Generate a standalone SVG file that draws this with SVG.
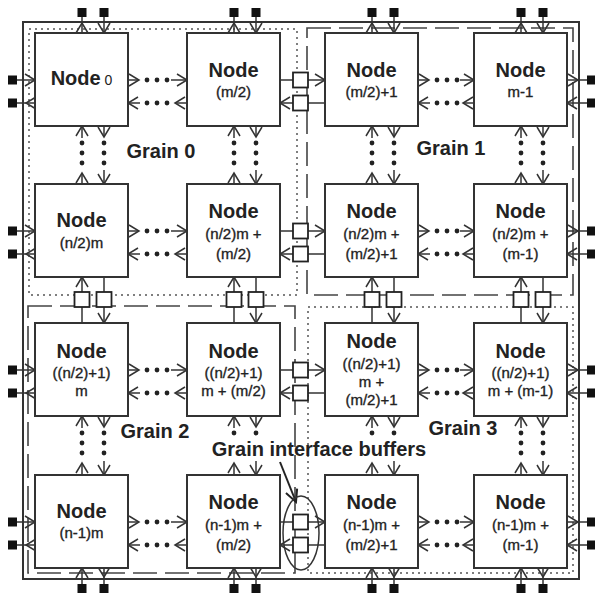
<svg xmlns="http://www.w3.org/2000/svg" width="595" height="595" viewBox="0 0 595 595">
<style>
.n rect{fill:#fff;stroke:#333;stroke-width:2}
text{font-family:"Liberation Sans",Arial,sans-serif;fill:#222;text-anchor:middle}
.t{font-size:20px;font-weight:bold}
.s{font-size:15px;font-weight:normal;stroke:#222;stroke-width:0.35}
.c{stroke:#333;stroke-width:1.5;fill:none;marker-end:url(#a)}
.p{stroke:#333;stroke-width:1.5}
.d{stroke:#222;stroke-width:4.8;stroke-linecap:round;stroke-dasharray:0 10}
.b{fill:#fff;stroke:#222;stroke-width:1.8}
.sq{fill:#111}
.gd{fill:none;stroke:#555;stroke-width:1.5;stroke-dasharray:2 4}
.gl{fill:none;stroke:#444;stroke-width:1.6;stroke-dasharray:24 8}
</style>
<defs>
<marker id="a" markerUnits="userSpaceOnUse" markerWidth="12" markerHeight="14" refX="10" refY="6" orient="auto" overflow="visible">
<path d="M0,0 L10,6 L0,12" fill="none" stroke="#333" stroke-width="1.5"/>
</marker>
<marker id="big" markerUnits="userSpaceOnUse" markerWidth="16" markerHeight="16" refX="12" refY="6" orient="auto" overflow="visible">
<path d="M0,0 L12,6 L0,12" fill="none" stroke="#222" stroke-width="2"/>
</marker>
</defs>
<rect width="595" height="595" fill="#fff"/>
<g id="grains">
<rect x="23" y="22" width="556" height="557" fill="none" stroke="#333" stroke-width="2"/>
<rect class="gd" x="29" y="29" width="268" height="266"/>
<rect class="gl" x="307" y="28" width="266" height="267"/>
<rect class="gl" x="28" y="306" width="267" height="267"/>
<rect class="gd" x="308" y="307" width="265" height="266"/>
</g>
<g id="connectors">
<line class="c" x1="128" y1="80" x2="139" y2="80"/><line class="d" x1="147" y1="80" x2="167.5" y2="80"/><line class="c" x1="171" y1="80" x2="187" y2="80"/>
<line class="c" x1="187" y1="103" x2="175" y2="103"/><line class="d" x1="147" y1="103" x2="167.5" y2="103"/><line class="c" x1="140" y1="103" x2="128" y2="103"/>
<line class="c" x1="128" y1="231" x2="139" y2="231"/><line class="d" x1="147" y1="231" x2="167.5" y2="231"/><line class="c" x1="171" y1="231" x2="187" y2="231"/>
<line class="c" x1="187" y1="254" x2="175" y2="254"/><line class="d" x1="147" y1="254" x2="167.5" y2="254"/><line class="c" x1="140" y1="254" x2="128" y2="254"/>
<line class="c" x1="128" y1="370" x2="139" y2="370"/><line class="d" x1="147" y1="370" x2="167.5" y2="370"/><line class="c" x1="171" y1="370" x2="187" y2="370"/>
<line class="c" x1="187" y1="393" x2="175" y2="393"/><line class="d" x1="147" y1="393" x2="167.5" y2="393"/><line class="c" x1="140" y1="393" x2="128" y2="393"/>
<line class="c" x1="128" y1="522" x2="139" y2="522"/><line class="d" x1="147" y1="522" x2="167.5" y2="522"/><line class="c" x1="171" y1="522" x2="187" y2="522"/>
<line class="c" x1="187" y1="545" x2="175" y2="545"/><line class="d" x1="147" y1="545" x2="167.5" y2="545"/><line class="c" x1="140" y1="545" x2="128" y2="545"/>
<line class="c" x1="418" y1="80" x2="429" y2="80"/><line class="d" x1="437" y1="80" x2="457.5" y2="80"/><line class="c" x1="460" y1="80" x2="474" y2="80"/>
<line class="c" x1="474" y1="103" x2="463" y2="103"/><line class="d" x1="437" y1="103" x2="457.5" y2="103"/><line class="c" x1="430" y1="103" x2="418" y2="103"/>
<line class="c" x1="418" y1="231" x2="429" y2="231"/><line class="d" x1="437" y1="231" x2="457.5" y2="231"/><line class="c" x1="460" y1="231" x2="474" y2="231"/>
<line class="c" x1="474" y1="254" x2="463" y2="254"/><line class="d" x1="437" y1="254" x2="457.5" y2="254"/><line class="c" x1="430" y1="254" x2="418" y2="254"/>
<line class="c" x1="418" y1="370" x2="429" y2="370"/><line class="d" x1="437" y1="370" x2="457.5" y2="370"/><line class="c" x1="460" y1="370" x2="474" y2="370"/>
<line class="c" x1="474" y1="393" x2="463" y2="393"/><line class="d" x1="437" y1="393" x2="457.5" y2="393"/><line class="c" x1="430" y1="393" x2="418" y2="393"/>
<line class="c" x1="418" y1="522" x2="429" y2="522"/><line class="d" x1="437" y1="522" x2="457.5" y2="522"/><line class="c" x1="460" y1="522" x2="474" y2="522"/>
<line class="c" x1="474" y1="545" x2="463" y2="545"/><line class="d" x1="437" y1="545" x2="457.5" y2="545"/><line class="c" x1="430" y1="545" x2="418" y2="545"/>
<line class="p" x1="280" y1="80" x2="293" y2="80"/><line class="c" x1="308" y1="80" x2="325" y2="80"/>
<line class="p" x1="325" y1="103" x2="308" y2="103"/><line class="c" x1="293" y1="103" x2="280" y2="103"/>
<line class="p" x1="280" y1="231" x2="293" y2="231"/><line class="c" x1="308" y1="231" x2="325" y2="231"/>
<line class="p" x1="325" y1="254" x2="308" y2="254"/><line class="c" x1="293" y1="254" x2="280" y2="254"/>
<line class="p" x1="280" y1="370" x2="293" y2="370"/><line class="c" x1="308" y1="370" x2="325" y2="370"/>
<line class="p" x1="325" y1="393" x2="308" y2="393"/><line class="c" x1="293" y1="393" x2="280" y2="393"/>
<line class="p" x1="280" y1="522" x2="293" y2="522"/><line class="c" x1="308" y1="522" x2="325" y2="522"/>
<line class="p" x1="325" y1="545" x2="308" y2="545"/><line class="c" x1="293" y1="545" x2="280" y2="545"/>
<line class="c" x1="82" y1="184" x2="82" y2="173"/><line class="d" x1="82" y1="143" x2="82" y2="167.5"/><line class="c" x1="82" y1="138" x2="82" y2="126"/>
<line class="c" x1="104" y1="126" x2="104" y2="137"/><line class="d" x1="104" y1="143" x2="104" y2="167.5"/><line class="c" x1="104" y1="170" x2="104" y2="184"/>
<line class="c" x1="234" y1="184" x2="234" y2="173"/><line class="d" x1="234" y1="143" x2="234" y2="167.5"/><line class="c" x1="234" y1="138" x2="234" y2="126"/>
<line class="c" x1="256" y1="126" x2="256" y2="137"/><line class="d" x1="256" y1="143" x2="256" y2="167.5"/><line class="c" x1="256" y1="170" x2="256" y2="184"/>
<line class="c" x1="372" y1="184" x2="372" y2="173"/><line class="d" x1="372" y1="143" x2="372" y2="167.5"/><line class="c" x1="372" y1="138" x2="372" y2="126"/>
<line class="c" x1="394" y1="126" x2="394" y2="137"/><line class="d" x1="394" y1="143" x2="394" y2="167.5"/><line class="c" x1="394" y1="170" x2="394" y2="184"/>
<line class="c" x1="521" y1="184" x2="521" y2="173"/><line class="d" x1="521" y1="143" x2="521" y2="167.5"/><line class="c" x1="521" y1="138" x2="521" y2="126"/>
<line class="c" x1="543" y1="126" x2="543" y2="137"/><line class="d" x1="543" y1="143" x2="543" y2="167.5"/><line class="c" x1="543" y1="170" x2="543" y2="184"/>
<line class="c" x1="82" y1="475" x2="82" y2="463"/><line class="d" x1="82" y1="433" x2="82" y2="457.5"/><line class="c" x1="82" y1="428" x2="82" y2="416"/>
<line class="c" x1="104" y1="416" x2="104" y2="427"/><line class="d" x1="104" y1="433" x2="104" y2="457.5"/><line class="c" x1="104" y1="461" x2="104" y2="475"/>
<line class="c" x1="234" y1="475" x2="234" y2="463"/><circle cx="234" cy="433" r="2.4" fill="#222"/><line class="c" x1="234" y1="428" x2="234" y2="416"/>
<line class="c" x1="256" y1="416" x2="256" y2="427"/><circle cx="256" cy="433" r="2.4" fill="#222"/><line class="c" x1="256" y1="461" x2="256" y2="475"/>
<line class="c" x1="372" y1="475" x2="372" y2="463"/><circle cx="372" cy="433" r="2.4" fill="#222"/><line class="c" x1="372" y1="428" x2="372" y2="416"/>
<line class="c" x1="394" y1="416" x2="394" y2="427"/><circle cx="394" cy="433" r="2.4" fill="#222"/><line class="c" x1="394" y1="461" x2="394" y2="475"/>
<line class="c" x1="521" y1="475" x2="521" y2="463"/><line class="d" x1="521" y1="433" x2="521" y2="457.5"/><line class="c" x1="521" y1="428" x2="521" y2="416"/>
<line class="c" x1="543" y1="416" x2="543" y2="427"/><line class="d" x1="543" y1="433" x2="543" y2="457.5"/><line class="c" x1="543" y1="461" x2="543" y2="475"/>
<line class="p" x1="82" y1="323" x2="82" y2="307"/><line class="c" x1="82" y1="292" x2="82" y2="277"/>
<line class="p" x1="104" y1="277" x2="104" y2="292"/><line class="c" x1="104" y1="307" x2="104" y2="323"/>
<line class="p" x1="234" y1="323" x2="234" y2="307"/><line class="c" x1="234" y1="292" x2="234" y2="277"/>
<line class="p" x1="256" y1="277" x2="256" y2="292"/><line class="c" x1="256" y1="307" x2="256" y2="323"/>
<line class="p" x1="372" y1="323" x2="372" y2="307"/><line class="c" x1="372" y1="292" x2="372" y2="277"/>
<line class="p" x1="394" y1="277" x2="394" y2="292"/><line class="c" x1="394" y1="307" x2="394" y2="323"/>
<line class="p" x1="521" y1="323" x2="521" y2="307"/><line class="c" x1="521" y1="292" x2="521" y2="277"/>
<line class="p" x1="543" y1="277" x2="543" y2="292"/><line class="c" x1="543" y1="307" x2="543" y2="323"/>
<line class="c" x1="82" y1="33" x2="82" y2="23"/><line class="p" x1="82" y1="23" x2="82" y2="17"/><line class="c" x1="104" y1="17" x2="104" y2="33"/>
<line class="c" x1="234" y1="33" x2="234" y2="23"/><line class="p" x1="234" y1="23" x2="234" y2="17"/><line class="c" x1="256" y1="17" x2="256" y2="33"/>
<line class="c" x1="372" y1="33" x2="372" y2="23"/><line class="p" x1="372" y1="23" x2="372" y2="17"/><line class="c" x1="394" y1="17" x2="394" y2="33"/>
<line class="c" x1="521" y1="33" x2="521" y2="23"/><line class="p" x1="521" y1="23" x2="521" y2="17"/><line class="c" x1="543" y1="17" x2="543" y2="33"/>
<line class="c" x1="82" y1="584" x2="82" y2="568"/><line class="c" x1="104" y1="568" x2="104" y2="577"/><line class="p" x1="104" y1="577" x2="104" y2="584"/>
<line class="c" x1="234" y1="584" x2="234" y2="568"/><line class="c" x1="256" y1="568" x2="256" y2="577"/><line class="p" x1="256" y1="577" x2="256" y2="584"/>
<line class="c" x1="372" y1="584" x2="372" y2="568"/><line class="c" x1="394" y1="568" x2="394" y2="577"/><line class="p" x1="394" y1="577" x2="394" y2="584"/>
<line class="c" x1="521" y1="584" x2="521" y2="568"/><line class="c" x1="543" y1="568" x2="543" y2="577"/><line class="p" x1="543" y1="577" x2="543" y2="584"/>
<line class="c" x1="17" y1="80" x2="35" y2="80"/><line class="c" x1="35" y1="103" x2="26" y2="103"/><line class="p" x1="26" y1="103" x2="17" y2="103"/>
<line class="c" x1="17" y1="231" x2="35" y2="231"/><line class="c" x1="35" y1="254" x2="26" y2="254"/><line class="p" x1="26" y1="254" x2="17" y2="254"/>
<line class="c" x1="17" y1="370" x2="35" y2="370"/><line class="c" x1="35" y1="393" x2="26" y2="393"/><line class="p" x1="26" y1="393" x2="17" y2="393"/>
<line class="c" x1="17" y1="522" x2="35" y2="522"/><line class="c" x1="35" y1="545" x2="26" y2="545"/><line class="p" x1="26" y1="545" x2="17" y2="545"/>
<line class="c" x1="567" y1="80" x2="578" y2="80"/><line class="p" x1="578" y1="80" x2="587" y2="80"/><line class="c" x1="587" y1="103" x2="567" y2="103"/>
<line class="c" x1="567" y1="231" x2="578" y2="231"/><line class="p" x1="578" y1="231" x2="587" y2="231"/><line class="c" x1="587" y1="254" x2="567" y2="254"/>
<line class="c" x1="567" y1="370" x2="578" y2="370"/><line class="p" x1="578" y1="370" x2="587" y2="370"/><line class="c" x1="587" y1="393" x2="567" y2="393"/>
<line class="c" x1="567" y1="522" x2="578" y2="522"/><line class="p" x1="578" y1="522" x2="587" y2="522"/><line class="c" x1="587" y1="545" x2="567" y2="545"/>
<line x1="280" y1="462" x2="296" y2="502" stroke="#222" stroke-width="2" marker-end="url(#big)"/>
</g>
<g id="terminals">
<rect class="sq" x="77.5" y="8" width="9" height="9"/><rect class="sq" x="99.5" y="8" width="9" height="9"/>
<rect class="sq" x="229.5" y="8" width="9" height="9"/><rect class="sq" x="251.5" y="8" width="9" height="9"/>
<rect class="sq" x="367.5" y="8" width="9" height="9"/><rect class="sq" x="389.5" y="8" width="9" height="9"/>
<rect class="sq" x="516.5" y="8" width="9" height="9"/><rect class="sq" x="538.5" y="8" width="9" height="9"/>
<rect class="sq" x="77.5" y="584" width="9" height="9"/><rect class="sq" x="99.5" y="584" width="9" height="9"/>
<rect class="sq" x="229.5" y="584" width="9" height="9"/><rect class="sq" x="251.5" y="584" width="9" height="9"/>
<rect class="sq" x="367.5" y="584" width="9" height="9"/><rect class="sq" x="389.5" y="584" width="9" height="9"/>
<rect class="sq" x="516.5" y="584" width="9" height="9"/><rect class="sq" x="538.5" y="584" width="9" height="9"/>
<rect class="sq" x="8" y="75.5" width="9" height="9"/><rect class="sq" x="8" y="98.5" width="9" height="9"/>
<rect class="sq" x="8" y="226.5" width="9" height="9"/><rect class="sq" x="8" y="249.5" width="9" height="9"/>
<rect class="sq" x="8" y="365.5" width="9" height="9"/><rect class="sq" x="8" y="388.5" width="9" height="9"/>
<rect class="sq" x="8" y="517.5" width="9" height="9"/><rect class="sq" x="8" y="540.5" width="9" height="9"/>
<rect class="sq" x="587" y="75.5" width="9" height="9"/><rect class="sq" x="587" y="98.5" width="9" height="9"/>
<rect class="sq" x="587" y="226.5" width="9" height="9"/><rect class="sq" x="587" y="249.5" width="9" height="9"/>
<rect class="sq" x="587" y="365.5" width="9" height="9"/><rect class="sq" x="587" y="388.5" width="9" height="9"/>
<rect class="sq" x="587" y="517.5" width="9" height="9"/><rect class="sq" x="587" y="540.5" width="9" height="9"/>
</g>
<g id="buffers">
<rect class="b" x="293" y="72.5" width="15" height="15"/><rect class="b" x="293" y="95.5" width="15" height="15"/>
<rect class="b" x="293" y="223.5" width="15" height="15"/><rect class="b" x="293" y="246.5" width="15" height="15"/>
<rect class="b" x="293" y="362.5" width="15" height="15"/><rect class="b" x="293" y="385.5" width="15" height="15"/>
<rect class="b" x="293" y="514.5" width="15" height="15"/><rect class="b" x="293" y="537.5" width="15" height="15"/>
<rect class="b" x="74.5" y="292" width="15" height="15"/><rect class="b" x="96.5" y="292" width="15" height="15"/>
<rect class="b" x="226.5" y="292" width="15" height="15"/><rect class="b" x="248.5" y="292" width="15" height="15"/>
<rect class="b" x="364.5" y="292" width="15" height="15"/><rect class="b" x="386.5" y="292" width="15" height="15"/>
<rect class="b" x="513.5" y="292" width="15" height="15"/><rect class="b" x="535.5" y="292" width="15" height="15"/>
<ellipse cx="301" cy="533" rx="18" ry="37" fill="none" stroke="#333" stroke-width="1.5"/>
</g>
<g id="node-0" class="n"><rect x="35" y="33" width="93" height="93"/><text class="t" x="81.5" y="85">Node<tspan font-size="14" font-weight="normal"> 0</tspan></text></g>
<g id="node-m2" class="n"><rect x="187" y="33" width="93" height="93"/><text class="t" x="233.5" y="77">Node</text><text class="s" x="233.5" y="97">(m/2)</text></g>
<g id="node-m2p1" class="n"><rect x="325" y="33" width="93" height="93"/><text class="t" x="371.5" y="77">Node</text><text class="s" x="371.5" y="97">(m/2)+1</text></g>
<g id="node-m-1" class="n"><rect x="474" y="33" width="93" height="93"/><text class="t" x="520.5" y="77">Node</text><text class="s" x="520.5" y="97">m-1</text></g>
<g id="node-n2m" class="n"><rect x="35" y="184" width="93" height="93"/><text class="t" x="81.5" y="227">Node</text><text class="s" x="81.5" y="248">(n/2)m</text></g>
<g id="node-n2m-m2" class="n"><rect x="187" y="184" width="93" height="93"/><text class="t" x="233.5" y="218">Node</text><text class="s" x="233.5" y="239">(n/2)m +</text><text class="s" x="233.5" y="259">(m/2)</text></g>
<g id="node-n2m-m2p1" class="n"><rect x="325" y="184" width="93" height="93"/><text class="t" x="371.5" y="218">Node</text><text class="s" x="371.5" y="239">(n/2)m +</text><text class="s" x="371.5" y="259">(m/2)+1</text></g>
<g id="node-n2m-m-1" class="n"><rect x="474" y="184" width="93" height="93"/><text class="t" x="520.5" y="218">Node</text><text class="s" x="520.5" y="239">(n/2)m +</text><text class="s" x="520.5" y="259">(m-1)</text></g>
<g id="node-n2p1m" class="n"><rect x="35" y="323" width="93" height="93"/><text class="t" x="81.5" y="358">Node</text><text class="s" x="81.5" y="378">((n/2)+1)</text><text class="s" x="81.5" y="396">m</text></g>
<g id="node-n2p1m-m2" class="n"><rect x="187" y="323" width="93" height="93"/><text class="t" x="233.5" y="358">Node</text><text class="s" x="233.5" y="378">((n/2)+1)</text><text class="s" x="233.5" y="396">m + (m/2)</text></g>
<g id="node-n2p1m-m2p1" class="n"><rect x="325" y="323" width="93" height="93"/><text class="t" x="371.5" y="348">Node</text><text class="s" x="371.5" y="369">((n/2)+1)</text><text class="s" x="371.5" y="387">m +</text><text class="s" x="371.5" y="405">(m/2)+1</text></g>
<g id="node-n2p1m-m-1" class="n"><rect x="474" y="323" width="93" height="93"/><text class="t" x="520.5" y="358">Node</text><text class="s" x="520.5" y="378">((n/2)+1)</text><text class="s" x="520.5" y="396">m + (m-1)</text></g>
<g id="node-n-1m" class="n"><rect x="35" y="475" width="93" height="93"/><text class="t" x="81.5" y="518">Node</text><text class="s" x="81.5" y="538">(n-1)m</text></g>
<g id="node-n-1m-m2" class="n"><rect x="187" y="475" width="93" height="93"/><text class="t" x="233.5" y="509">Node</text><text class="s" x="233.5" y="530">(n-1)m +</text><text class="s" x="233.5" y="550">(m/2)</text></g>
<g id="node-n-1m-m2p1" class="n"><rect x="325" y="475" width="93" height="93"/><text class="t" x="371.5" y="509">Node</text><text class="s" x="371.5" y="530">(n-1)m +</text><text class="s" x="371.5" y="550">(m/2)+1</text></g>
<g id="node-n-1m-m-1" class="n"><rect x="474" y="475" width="93" height="93"/><text class="t" x="520.5" y="509">Node</text><text class="s" x="520.5" y="530">(n-1)m +</text><text class="s" x="520.5" y="550">(m-1)</text></g>
<g id="labels">
<text class="t" x="161" y="158">Grain 0</text>
<text class="t" x="451" y="155">Grain 1</text>
<text class="t" x="155" y="438">Grain 2</text>
<text class="t" x="463" y="435">Grain 3</text>
<text class="t" x="319" y="456">Grain interface buffers</text>
</g>
</svg>
